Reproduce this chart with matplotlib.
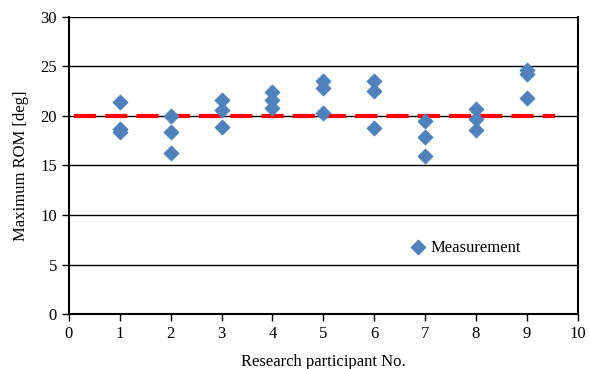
import numpy as np
import matplotlib.pyplot as plt

plt.rcParams['font.family'] = ['Liberation Serif', 'DejaVu Serif']

participants = [1, 2, 3, 4, 5, 6, 7, 8, 9]
trial_a = [21.4, 20.0, 21.6, 22.4, 23.5, 23.5, 19.5, 20.7, 24.6]
trial_b = [18.7, 18.4, 20.6, 21.6, 22.8, 22.5, 17.9, 19.7, 24.2]
trial_c = [18.4, 16.3, 18.9, 20.8, 20.3, 18.8, 16.0, 18.6, 21.8]
reference_value = 20
ref_x = [0.1, 9.55]

fig = plt.figure(figsize=(5.89, 3.69), dpi=100)
ax = fig.add_axes([0.117, 0.149, 0.864, 0.805])

for y in range(5, 31, 5):
    ax.axhline(y, color='black', lw=1.0, zorder=1)

ax.plot(ref_x, [reference_value, reference_value], color='#FF0000', lw=3,
        dashes=(5.3, 2.2), zorder=2)

xs = participants * 3
ys = trial_a + trial_b + trial_c
ax.scatter(xs, ys, marker='D', s=60, color='#4F81BD', edgecolors='#4F81BD',
           linewidths=0.5, zorder=3, label='Measurement')

ax.set_xlim(0, 10)
ax.set_ylim(0, 30)
ax.set_xticks(range(0, 11))
ax.set_yticks(range(0, 31, 5))
ax.tick_params(direction='out', length=5, width=1, labelsize=12, colors='black')
for s in ['left', 'right', 'bottom']:
    ax.spines[s].set_linewidth(1.5)
ax.spines['top'].set_visible(False)

ax.set_xlabel('Research participant No.', fontsize=12, labelpad=9)
ax.set_ylabel('Maximum ROM [deg]', fontsize=12, labelpad=8)

ax.legend(loc='lower left', bbox_to_anchor=(0.64, 0.174), frameon=False,
          fontsize=12, handletextpad=-0.25, borderaxespad=0, scatterpoints=1)

fig.savefig('out.png', dpi=100)
